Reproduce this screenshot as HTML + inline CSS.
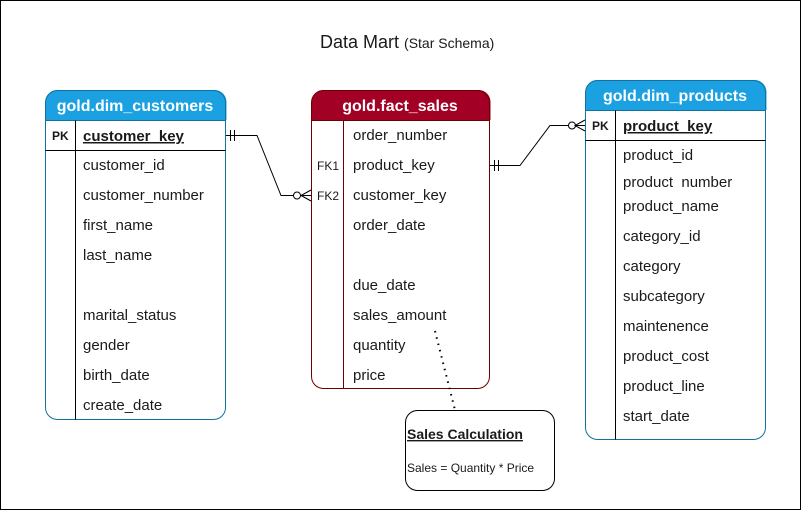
<!DOCTYPE html>
<html><head><meta charset="utf-8"><style>
html,body{margin:0;padding:0;background:#fff}
svg{display:block}
text{font-family:"Liberation Sans",Arial,sans-serif;fill:#1a1a1a}
.f{font-size:15px}
.k{font-size:12px}
.h{font-size:16px;font-weight:bold;fill:#fff}
</style></head><body>
<svg width="802" height="511" viewBox="0 0 802 511" xmlns="http://www.w3.org/2000/svg">
<rect x="0.5" y="0.5" width="800" height="509" fill="#fff" stroke="#000"/>
<text x="320" y="48" style="font-size:18px">Data Mart <tspan style="font-size:14px">(Star Schema)</tspan></text>

<!-- customers -->
<path d="M45.5 102 a12 12 0 0 1 12 -12 h157 a12 12 0 0 1 12 12 v18 h-181z" fill="#1ba1e2"/>
<rect x="45.5" y="90.5" width="180" height="329" rx="12" fill="none" stroke="#10739e"/>
<line x1="45.5" y1="120.5" x2="225.5" y2="120.5" stroke="#10739e"/>
<line x1="45.5" y1="150.5" x2="225.5" y2="150.5" stroke="#000"/>
<line x1="75.5" y1="120.5" x2="75.5" y2="419.5" stroke="#000"/>
<text x="135" y="111" class="h" text-anchor="middle">gold.dim_customers</text>
<text x="52" y="140" class="k" style="font-weight:bold">PK</text>
<text x="83" y="141" class="f" style="font-weight:bold;text-decoration:underline">customer_key</text>
<text x="83" y="170" class="f">customer_id</text>
<text x="83" y="200" class="f">customer_number</text>
<text x="83" y="230" class="f">first_name</text>
<text x="83" y="260" class="f">last_name</text>
<text x="83" y="320" class="f">marital_status</text>
<text x="83" y="350" class="f">gender</text>
<text x="83" y="380" class="f">birth_date</text>
<text x="83" y="410" class="f">create_date</text>

<!-- fact -->
<path d="M311.5 102 a12 12 0 0 1 12 -12 h155 a12 12 0 0 1 12 12 v18 h-179z" fill="#a20025"/>
<rect x="311.5" y="90.5" width="178" height="298" rx="12" fill="none" stroke="#6f0000"/>
<line x1="311.5" y1="120.5" x2="489.5" y2="120.5" stroke="#6f0000"/>
<line x1="343.5" y1="120.5" x2="343.5" y2="388.5" stroke="#6f0000"/>
<text x="400" y="111" class="h" text-anchor="middle">gold.fact_sales</text>
<text x="317" y="170" class="k">FK1</text>
<text x="317" y="200" class="k">FK2</text>
<text x="353" y="140" class="f">order_number</text>
<text x="353" y="170" class="f">product_key</text>
<text x="353" y="200" class="f">customer_key</text>
<text x="353" y="230" class="f">order_date</text>
<text x="353" y="290" class="f">due_date</text>
<text x="353" y="320" class="f">sales_amount</text>
<text x="353" y="350" class="f">quantity</text>
<text x="353" y="380" class="f">price</text>

<!-- products -->
<path d="M585.5 92 a12 12 0 0 1 12 -12 h157 a12 12 0 0 1 12 12 v18 h-181z" fill="#1ba1e2"/>
<rect x="585.5" y="80.5" width="180" height="359" rx="12" fill="none" stroke="#10739e"/>
<line x1="585.5" y1="110.5" x2="765.5" y2="110.5" stroke="#10739e"/>
<line x1="585.5" y1="140.5" x2="765.5" y2="140.5" stroke="#000"/>
<line x1="615.5" y1="110.5" x2="615.5" y2="439.5" stroke="#000"/>
<text x="675" y="101" class="h" text-anchor="middle">gold.dim_products</text>
<text x="592" y="130" class="k" style="font-weight:bold">PK</text>
<text x="623" y="131" class="f" style="font-weight:bold;text-decoration:underline">product_key</text>
<text x="623" y="160" class="f">product_id</text>
<text x="623" y="187" class="f">product&#160; number</text>
<text x="623" y="211" class="f">product_name</text>
<text x="623" y="241" class="f">category_id</text>
<text x="623" y="271" class="f">category</text>
<text x="623" y="301" class="f">subcategory</text>
<text x="623" y="331" class="f">maintenence</text>
<text x="623" y="361" class="f">product_cost</text>
<text x="623" y="391" class="f">product_line</text>
<text x="623" y="421" class="f">start_date</text>

<!-- connectors -->
<g fill="none" stroke="#000" stroke-width="1">
<path d="M226 135.5 H257 L281 195.5 H311"/>
<line x1="230.5" y1="130" x2="230.5" y2="141"/>
<line x1="234.5" y1="130" x2="234.5" y2="141"/>
<circle cx="297" cy="195.5" r="3.5" fill="#fff"/>
<path d="M311 190 L301 195.5 L311 201"/>
<path d="M490 165.5 H520 L550 125.5 H585"/>
<line x1="494.5" y1="160" x2="494.5" y2="171"/>
<line x1="498.5" y1="160" x2="498.5" y2="171"/>
<circle cx="572" cy="125.5" r="3.5" fill="#fff"/>
<path d="M585 120 L575 125.5 L585 131"/>
<line x1="435" y1="331" x2="455" y2="410" stroke-dasharray="1.5 5" stroke-width="2"/>
</g>

<!-- note -->
<rect x="405.5" y="410.5" width="149" height="80" rx="12" fill="#fff" stroke="#000"/>
<text x="407" y="439" style="font-size:14px;font-weight:bold;text-decoration:underline">Sales Calculation</text>
<text x="407" y="472" style="font-size:12px">Sales = Quantity * Price</text>
</svg>
</body></html>
